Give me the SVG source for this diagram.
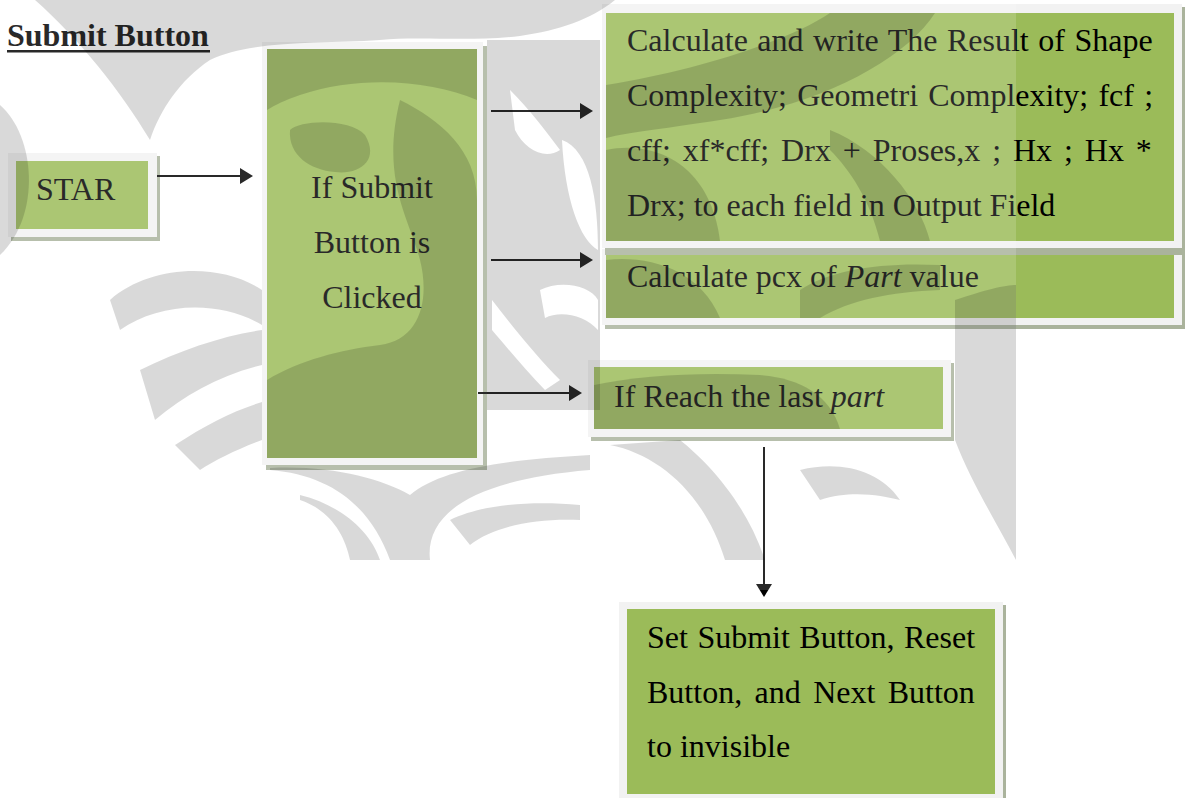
<svg xmlns="http://www.w3.org/2000/svg" width="1189" height="798" viewBox="0 0 1189 798">
  <defs>
    <style>
      .frame { fill: #f2f2f2; }
      .shadow { fill: #aab39c; }
      .body { fill: #9bbb59; }
      .t { font-family: "Liberation Serif", "Times New Roman", serif; font-size: 32px; fill: #000; }
      .it { font-style: italic; }
      .conn line { stroke: #000; stroke-width: 2; fill: none; }
      .wm-dark { fill: #000; fill-opacity: 0.15; fill-rule: evenodd; }
    </style>
    <marker id="arr" markerUnits="userSpaceOnUse" markerWidth="13" markerHeight="16" refX="9" refY="8" orient="auto">
      <path d="M0,0 L13,8 L0,16 Z" fill="#000"/>
    </marker>
  </defs>

  <rect width="1189" height="798" fill="#fff"/>

  <!-- heading -->
  <g id="heading">
    <text class="t" x="7" y="46" font-weight="bold">Submit Button</text>
    <rect x="7" y="50" width="203" height="2.5" fill="#000"/>
  </g>

  <!-- start node -->
  <g id="node-start">
    <rect class="shadow" x="11" y="156" width="149" height="85"/>
    <rect class="frame" x="8" y="153" width="149" height="84"/>
    <rect class="body" x="16" y="161" width="132" height="68"/>
    <text class="t" x="36" y="200">STAR</text>
  </g>

  <!-- decision: submit clicked -->
  <g id="node-clicked">
    <rect class="shadow" x="266" y="46" width="221" height="424"/>
    <rect class="frame" x="262" y="42" width="221" height="423"/>
    <rect class="body" x="267" y="49" width="210" height="409"/>
    <text class="t" x="372" y="198" text-anchor="middle">If Submit</text>
    <text class="t" x="372" y="253" text-anchor="middle">Button is</text>
    <text class="t" x="372" y="308" text-anchor="middle">Clicked</text>
  </g>

  <!-- pcx step (drawn before the results box so its shadow falls on it) -->
  <g id="node-pcx">
    <rect class="shadow" x="605" y="252" width="580" height="77"/>
    <rect class="frame" x="602" y="249" width="580" height="76"/>
    <rect class="body" x="606" y="255" width="568" height="63"/>
    <text class="t" x="627" y="287">Calculate pcx of <tspan class="it">Part</tspan> value</text>
  </g>

  <!-- results step -->
  <g id="node-results">
    <rect class="shadow" x="605" y="7" width="580" height="248"/>
    <rect class="frame" x="602" y="4" width="580" height="244"/>
    <rect class="body" x="606" y="13" width="568" height="228"/>
    <text class="t" x="627" y="51" word-spacing="1.5">Calculate and write The Result of Shape</text>
    <text class="t" x="627" y="106" word-spacing="2.2">Complexity; Geometri Complexity; fcf ;</text>
    <text class="t" x="627" y="161" word-spacing="3.9">cff; xf*cff; Drx + Proses,x ; Hx ; Hx *</text>
    <text class="t" x="627" y="216">Drx; to each field in Output Field</text>
  </g>

  <!-- last part check -->
  <g id="node-lastpart">
    <rect class="shadow" x="591" y="363" width="363" height="78"/>
    <rect class="frame" x="588" y="360" width="363" height="77"/>
    <rect class="body" x="594" y="367" width="349" height="62"/>
    <text class="t" x="614" y="407">If Reach the last <tspan class="it">part</tspan></text>
  </g>

  <!-- hide buttons -->
  <g id="node-hide">
    <rect class="shadow" x="622" y="605" width="384" height="200"/>
    <rect class="frame" x="619" y="602" width="384" height="200"/>
    <rect class="body" x="627" y="609" width="368" height="185"/>
    <text class="t" x="647" y="648" word-spacing="1.5">Set Submit Button, Reset</text>
    <text class="t" x="647" y="703" word-spacing="4.4">Button, and Next Button</text>
    <text class="t" x="647" y="757">to invisible</text>
  </g>

  <!-- connectors -->
  <g id="connectors" class="conn">
    <line x1="157" y1="176" x2="249" y2="176" marker-end="url(#arr)"/>
    <line x1="491" y1="111" x2="589" y2="111" marker-end="url(#arr)"/>
    <line x1="491" y1="260" x2="589" y2="260" marker-end="url(#arr)"/>
    <line x1="478" y1="393" x2="578" y2="393" marker-end="url(#arr)"/>
    <line x1="764" y1="447" x2="764" y2="593" marker-end="url(#arr)"/>
  </g>

  <!-- background emblem, printed over the page as a faint screen -->
  <g id="emblem">
    <rect x="0" y="0" width="1016" height="590" fill="#fff" fill-opacity="0.16"/>
    <path class="wm-dark" d="M35,0 H615 C590,20 560,30 520,36 C470,42 420,36 380,40 C320,44 250,40 210,60 C180,80 160,110 150,140 C120,90 80,40 35,0 Z"/>
    <path class="wm-dark" d="M0,105 C35,135 42,215 0,255 Z"/>
    <path class="wm-dark" d="M487,40 H600 V410 H487 Z M510,90 C530,110 545,130 560,150 C545,160 525,150 515,130 Z M562,140 C590,150 598,200 598,250 C580,240 565,200 562,140 Z M540,290 C560,280 590,285 598,300 L598,330 C585,315 560,310 545,318 Z M492,300 C515,330 540,360 560,380 L545,390 C525,370 505,345 492,330 Z"/>
    <path class="wm-dark" d="M267,49 H477 V100 C430,80 360,75 300,95 C285,100 275,105 267,110 Z"/>
    <path class="wm-dark" d="M290,130 C300,120 350,118 365,135 C380,160 360,175 335,172 C310,170 288,155 290,130 Z"/>
    <path class="wm-dark" d="M400,100 C440,120 477,150 477,200 V458 H267 V380 C300,360 340,350 380,345 C420,340 430,300 420,260 C410,220 380,180 400,100 Z"/>
    <path class="wm-dark" d="M110,300 C150,265 220,262 262,290 V325 C220,300 160,302 120,330 Z"/>
    <path class="wm-dark" d="M140,370 C180,350 225,335 262,330 V365 C220,375 185,395 155,420 Z"/>
    <path class="wm-dark" d="M175,445 C205,425 235,410 262,402 V440 C240,448 215,460 200,470 Z"/>
    <path class="wm-dark" d="M270,470 C330,475 370,505 390,560 H430 C425,515 470,480 590,470 V455 C500,460 440,470 410,495 C380,478 330,465 270,468 Z"/>
    <path class="wm-dark" d="M300,500 C330,510 345,535 350,560 H380 C370,530 340,505 300,495 Z M450,520 C480,505 530,500 580,505 V520 C540,518 495,525 470,545 Z"/>
    <path class="wm-dark" d="M606,85 C700,70 790,40 830,13 H935 C905,60 820,105 720,120 C670,128 630,132 606,138 Z"/>
    <path class="wm-dark" d="M606,150 C650,140 710,160 720,241 H606 Z"/>
    <path class="wm-dark" d="M830,130 C880,150 920,200 930,241 H880 C870,200 850,170 830,150 Z"/>
    <path class="wm-dark" d="M606,260 C650,255 700,270 720,318 H606 Z M800,290 C830,270 880,262 940,265 V290 C890,292 850,300 820,318 H800 Z"/>
    <path class="wm-dark" d="M594,385 C640,375 700,372 760,375 C800,378 830,395 840,429 H594 Z"/>
    <path class="wm-dark" d="M610,445 C660,455 705,495 725,560 H765 C745,500 705,460 680,440 Z"/>
    <path class="wm-dark" d="M800,470 C840,460 880,470 900,500 C880,495 850,490 820,500 Z"/>
    <path class="wm-dark" d="M955,300 C985,290 1005,285 1016,285 V560 C995,520 970,480 955,440 Z"/>
  </g>
</svg>
